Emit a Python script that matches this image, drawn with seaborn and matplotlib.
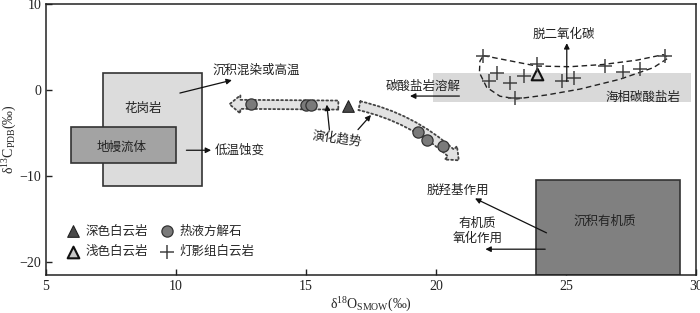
import numpy as np
import pandas as pd
import matplotlib
matplotlib.use("Agg")
import matplotlib.pyplot as plt
from matplotlib.patches import Rectangle, FancyArrowPatch, ArrowStyle
import seaborn as sns

# ---------------- data ----------------
dark_dol_x = [16.6]
dark_dol_y = [-1.8]
light_dol_x = [23.9]
light_dol_y = [1.85]
calcite_x = [12.9, 15.0, 15.2, 19.3, 19.65, 20.25]
calcite_y = [-1.65, -1.7, -1.7, -4.85, -5.8, -6.45]
dengying_x = [21.8, 22.35, 22.05, 22.85, 23.4, 23.05, 23.9, 24.85, 25.3, 26.5, 27.2, 27.85, 28.8]
dengying_y = [3.95, 1.95, 1.0, 0.85, 1.65, -0.95, 3.0, 1.0, 1.45, 2.8, 2.15, 2.4, 3.95]

legend_labels = ["深色白云岩", "浅色白云岩", "热液方解石", "灯影组白云岩"]

# field boxes: (x0, x1, y0, y1)
granite_box = (7.2, 11.0, -11.2, 2.0)
mantle_box = (5.95, 10.0, -8.5, -4.3)
marine_box = (19.9, 29.8, -1.4, 1.95)
organic_box = (23.85, 29.4, -21.5, -10.4)

# dashed envelope of Dengying dolomite
env_x = [21.82, 22.72, 23.87, 25.15, 26.43, 27.72, 28.74, 28.94, 28.36, 27.08, 25.54, 24.26, 23.1, 22.46, 21.95, 21.67, 21.69, 21.82]
env_y = [4.0, 3.47, 2.79, 2.71, 2.97, 3.47, 4.11, 3.74, 2.6, 1.26, 0.11, -0.57, -1.03, -0.72, 0.31, 2.02, 3.36, 4.0]

x_ticks = [5, 10, 15, 20, 25, 30]
y_ticks = [-20, -10, 0, 10]

# ---------------- style ----------------
sns.set_style("ticks")
plt.rcParams["font.family"] = ["Liberation Serif", "Noto Sans CJK SC", "DejaVu Sans"]
plt.rcParams["mathtext.fontset"] = "custom"
plt.rcParams["mathtext.rm"] = "Liberation Serif"
plt.rcParams["mathtext.it"] = "Liberation Serif:italic"
plt.rcParams["xtick.direction"] = "in"
plt.rcParams["ytick.direction"] = "in"

CJK = ["Noto Sans CJK SC", "DejaVu Sans"]

fig = plt.figure(figsize=(7.0, 3.13), dpi=100)
ax = fig.add_axes([46 / 700, 1 - 275 / 313, 650 / 700, 271 / 313])
ax.set_xlim(5, 30)
ax.set_ylim(-21.5, 10)

# boxes
def box(b, fc, ec, lw=1.2, z=1):
    ax.add_patch(Rectangle((b[0], b[2]), b[1] - b[0], b[3] - b[2], facecolor=fc,
                           edgecolor=ec, linewidth=lw, zorder=z))

box(marine_box, "#d9d9d9", "none", 0, 0.5)
box(granite_box, "#dcdcdc", "#333333", 1.2, 1)
box(mantle_box, "#a3a3a3", "#333333", 1.2, 2)
box(organic_box, "#808080", "#333333", 1.2, 1)

# envelope
ax.plot(env_x, env_y, linestyle=(0, (4, 2.5)), color="#222222", lw=1.0, zorder=3)

# trend arrows (dotted outlines)
st = ArrowStyle.Simple(head_length=0.6, head_width=1.0, tail_width=0.5)
a1 = FancyArrowPatch((16.35, -1.75), (11.95, -1.65), arrowstyle=st, mutation_scale=13,
                     facecolor="#e2e2e2", edgecolor="#444444", linestyle=(0, (1, 1.5)),
                     linewidth=1.3, zorder=3)
ax.add_patch(a1)
a2 = FancyArrowPatch((16.95, -1.75), (20.95, -8.4), arrowstyle=st, mutation_scale=13,
                     connectionstyle="arc3,rad=-0.15",
                     facecolor="#e2e2e2", edgecolor="#444444", linestyle=(0, (1, 1.5)),
                     linewidth=1.3, zorder=3)
ax.add_patch(a2)

# points
sns.scatterplot(x=dark_dol_x, y=dark_dol_y, marker="^", s=70, color="#4a4a4a",
                edgecolor="#222222", linewidth=0.8, ax=ax, label=legend_labels[0], zorder=5)
sns.scatterplot(x=light_dol_x, y=light_dol_y, marker="^", s=70, color="#c8c8c8",
                edgecolor="#111111", linewidth=1.5, ax=ax, label=legend_labels[1], zorder=5)
sns.scatterplot(x=calcite_x, y=calcite_y, marker="o", s=65, color="#7a7a7a",
                edgecolor="#333333", linewidth=0.9, ax=ax, label=legend_labels[2], zorder=5)
sns.scatterplot(x=dengying_x, y=dengying_y, marker="+", s=100, color="#444444",
                linewidth=1.1, ax=ax, label=legend_labels[3], zorder=5)

leg = ax.legend(ncol=2, frameon=False, loc="lower left", bbox_to_anchor=(0.02, 0.035),
                prop={"family": CJK, "size": 9}, handletextpad=0.5, columnspacing=1.0,
                labelspacing=0.6, handlelength=1.0, borderaxespad=0.2)

# text labels
fs = 9
def txt(x, y, s, **kw):
    kw.setdefault("ha", "center")
    kw.setdefault("va", "center")
    ax.text(x, y, s, fontsize=fs, family=CJK, color="#222222", zorder=6, **kw)

def arrow(x0, y0, x1, y1):
    ax.annotate("", xy=(x1, y1), xytext=(x0, y0),
                arrowprops=dict(arrowstyle="-|>", lw=0.9, color="#111111",
                                mutation_scale=8, shrinkA=0, shrinkB=0), zorder=6)

txt(8.75, -2.2, "花岗岩")
txt(7.9, -6.6, "地幔流体")
txt(13.1, 2.3, "沉积混染或高温")
arrow(10.15, -0.35, 12.15, 1.15)
txt(11.5, -6.95, "低温蚀变", ha="left")
arrow(10.4, -7.0, 11.35, -7.0)
txt(16.2, -5.6, "演化趋势", rotation=-8)
arrow(15.9, -4.6, 15.8, -1.7)
arrow(17.0, -4.6, 17.5, -2.9)
txt(19.5, 0.45, "碳酸盐岩溶解")
arrow(20.9, -0.7, 19.0, -0.7)
txt(27.95, -0.85, "海相碳酸盐岩")
txt(24.9, 6.5, "脱二氧化碳")
arrow(25.03, 1.0, 25.03, 5.45)
txt(20.85, -11.6, "脱羟基作用")
arrow(24.25, -16.6, 21.5, -12.6)
txt(21.6, -16.4, "有机质\n氧化作用", linespacing=1.2)
arrow(24.2, -18.5, 21.9, -18.5)
txt(26.5, -15.2, "沉积有机质")

# axes
ax.set_xticks(x_ticks)
ax.set_yticks(y_ticks)
ax.tick_params(labelsize=10, length=4, width=1.0, colors="#222222")
for sp in ax.spines.values():
    sp.set_linewidth(1.1)
    sp.set_color("#222222")
ax.set_xlabel("δ$^{18}$O$_{\\rm SMOW}$(‰)", fontsize=10, labelpad=2)
ax.set_ylabel("δ$^{13}$C$_{\\rm PDB}$(‰)", fontsize=10, labelpad=0.5)

fig.savefig("out.png", dpi=100)
